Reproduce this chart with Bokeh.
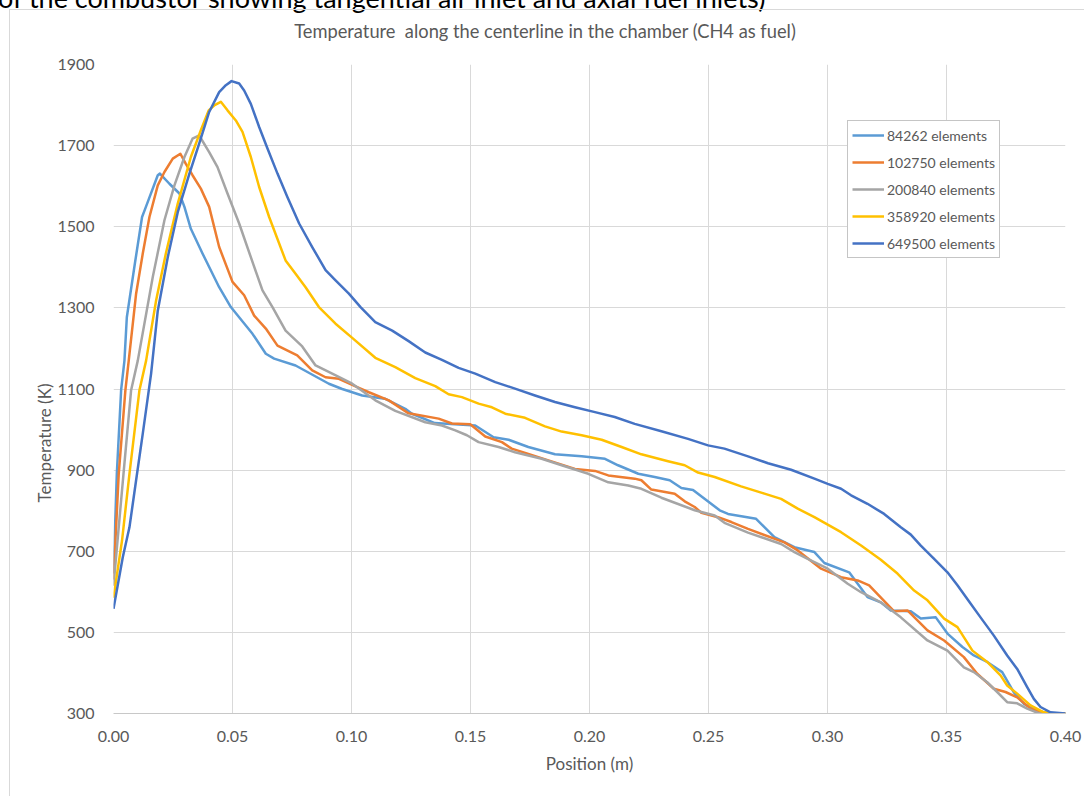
from bokeh.plotting import figure
from bokeh.models import (Range1d, FixedTicker, NumeralTickFormatter,
                          Legend, LegendItem, Div)
from bokeh.layouts import column, row
from bokeh.embed import file_html
from bokeh.resources import INLINE

# ---------------- data ----------------
series_names = ["84262 elements", "102750 elements", "200840 elements",
                "358920 elements", "649500 elements"]
series_colors = ["#5B9BD5", "#ED7D31", "#A5A5A5", "#FFC000", "#4472C4"]

pos_84262 = [0, 0.0014, 0.0032, 0.0046, 0.0056, 0.009, 0.012, 0.0133, 0.0186, 0.0195,
             0.0235, 0.0277, 0.0298, 0.0325, 0.0374, 0.0444, 0.0493, 0.0584, 0.064,
             0.0675, 0.0765, 0.0905, 0.0961, 0.1045, 0.114, 0.1226, 0.1254, 0.135,
             0.152, 0.1597, 0.166, 0.1743, 0.1855, 0.1967, 0.2065, 0.212, 0.2205,
             0.2274, 0.2337, 0.2386, 0.2435, 0.2547, 0.2582, 0.27, 0.2777, 0.2861,
             0.2945, 0.2987, 0.3091, 0.3168, 0.3224, 0.3266, 0.335, 0.3392, 0.3455,
             0.3504, 0.3567, 0.3615, 0.3671, 0.3734, 0.3783, 0.3825, 0.3881, 0.393, 0.40]
temp_84262 = [645, 891, 1097, 1170, 1277, 1410, 1524, 1544, 1627, 1631,
              1606, 1582, 1549, 1495, 1434, 1351, 1302, 1236, 1187,
              1175, 1158, 1113, 1100, 1084, 1076, 1051, 1039, 1016,
              1010, 981, 975, 957, 939, 934, 928, 912, 891,
              883, 875, 856, 851, 801, 792, 780, 735, 710,
              698, 671, 648, 587, 574, 554, 552, 534, 537,
              497, 464, 443, 427, 402, 352, 324, 307, 300, 300]

pos_102750 = [0, 0.0022, 0.005, 0.0064, 0.0095, 0.0123, 0.0151, 0.0186, 0.0214, 0.0249,
              0.0281, 0.0304, 0.0332, 0.0367, 0.0402, 0.0444, 0.05, 0.0549, 0.0591,
              0.064, 0.0689, 0.0772, 0.0835, 0.0891, 0.0947, 0.1031, 0.1073, 0.1157,
              0.124, 0.1366, 0.1422, 0.1499, 0.1562, 0.1632, 0.1673, 0.1743, 0.1827,
              0.1939, 0.2023, 0.2079, 0.219, 0.2218, 0.226, 0.2358, 0.24, 0.2442,
              0.247, 0.254, 0.2596, 0.2666, 0.2819, 0.2875, 0.2973, 0.3057, 0.3127,
              0.3175, 0.328, 0.3336, 0.342, 0.349, 0.3573, 0.3629, 0.3699, 0.3748,
              0.3797, 0.3853, 0.392, 0.40]
temp_102750 = [630, 891, 1097, 1170, 1335, 1434, 1524, 1602, 1635, 1668,
               1680, 1655, 1627, 1594, 1549, 1450, 1364, 1331, 1281,
               1249, 1207, 1183, 1146, 1129, 1125, 1103, 1092, 1072,
               1040, 1027, 1015, 1013, 983, 969, 953, 940, 924,
               903, 898, 887, 879, 875, 852, 842, 823, 809,
               795, 784, 772, 755, 722, 702, 657, 636, 628,
               616, 552, 554, 505, 480, 439, 398, 361, 353,
               340, 312, 300, 300]

pos_200840 = [0, 0.0042, 0.0074, 0.0102, 0.0165, 0.0214, 0.0256, 0.0298, 0.0332, 0.036,
              0.0402, 0.0437, 0.0479, 0.0528, 0.0577, 0.0626, 0.0668, 0.0723, 0.0793,
              0.0849, 0.0919, 0.1003, 0.11, 0.1184, 0.131, 0.138, 0.1436, 0.1485,
              0.1534, 0.1618, 0.1687, 0.1799, 0.1883, 0.1995, 0.2079, 0.2163, 0.2218,
              0.2302, 0.2442, 0.2526, 0.2567, 0.2666, 0.2805, 0.2861, 0.2917, 0.3001,
              0.3085, 0.3141, 0.3224, 0.3308, 0.342, 0.3504, 0.3573, 0.3615, 0.3671,
              0.3713, 0.3755, 0.3797, 0.3839, 0.389, 0.40]
temp_200840 = [615, 891, 1097, 1170, 1376, 1516, 1602, 1672, 1717, 1725,
               1684, 1647, 1582, 1508, 1425, 1343, 1302, 1244, 1205,
               1158, 1138, 1113, 1072, 1046, 1018, 1010, 998, 986,
               969, 957, 944, 928, 912, 891, 870, 862, 854,
               832, 801, 788, 770, 746, 718, 698, 681, 657,
               620, 599, 574, 537, 480, 455, 414, 402, 377,
               353, 328, 325, 312, 300, 300]

pos_358920 = [0, 0.0036, 0.0067, 0.0109, 0.0137, 0.0179, 0.022, 0.027, 0.0325, 0.0367,
              0.04, 0.0423, 0.0451, 0.0479, 0.0514, 0.0542, 0.0577, 0.0612, 0.0654,
              0.0723, 0.0765, 0.0807, 0.0863, 0.0933, 0.1003, 0.11, 0.1184, 0.1268,
              0.1352, 0.1408, 0.1464, 0.1534, 0.159, 0.1646, 0.1729, 0.1813, 0.1883,
              0.1967, 0.2051, 0.2135, 0.2218, 0.233, 0.24, 0.2456, 0.2526, 0.2637,
              0.2735, 0.2805, 0.2875, 0.2945, 0.3057, 0.3141, 0.3224, 0.3294, 0.3364,
              0.342, 0.349, 0.3546, 0.3609, 0.3671, 0.3727, 0.3755, 0.3797, 0.3853,
              0.3909, 0.395, 0.40]
temp_358920 = [585, 727, 891, 1097, 1170, 1318, 1434, 1557, 1672, 1738,
               1787, 1799, 1808, 1787, 1762, 1734, 1672, 1598, 1524,
               1417, 1384, 1351, 1302, 1261, 1226, 1177, 1154, 1127,
               1107, 1087, 1080, 1064, 1055, 1039, 1029, 1008, 995,
               986, 975, 957, 939, 922, 912, 894, 883, 860,
               842, 829, 805, 784, 747, 714, 679, 645, 603,
               579, 534, 513, 455, 427, 394, 369, 349, 320,
               303, 300, 300]

pos_649500 = [0, 0.0039, 0.0067, 0.0095, 0.0123, 0.0158, 0.0186, 0.0228, 0.027, 0.0319,
              0.036, 0.0402, 0.0444, 0.0472, 0.0496, 0.0528, 0.0549, 0.0577, 0.0612,
              0.0647, 0.0689, 0.0731, 0.078, 0.0835, 0.0891, 0.0933, 0.0989, 0.1038,
              0.11, 0.1171, 0.124, 0.131, 0.138, 0.145, 0.152, 0.1604, 0.1687,
              0.1771, 0.1855, 0.1939, 0.2023, 0.2106, 0.219, 0.2302, 0.2414, 0.2498,
              0.2567, 0.2666, 0.275, 0.2847, 0.2945, 0.3001, 0.3057, 0.3099, 0.3168,
              0.3238, 0.3308, 0.335, 0.3392, 0.3448, 0.3504, 0.3546, 0.3601, 0.3643,
              0.3699, 0.3755, 0.3797, 0.3839, 0.3867, 0.3895, 0.3937, 0.40]
temp_649500 = [558, 685, 759, 875, 990, 1138, 1293, 1425, 1536, 1631,
               1705, 1783, 1832, 1849, 1859, 1853, 1836, 1803, 1746,
               1693, 1631, 1573, 1508, 1450, 1393, 1368, 1335, 1302,
               1265, 1244, 1218, 1190, 1172, 1152, 1138, 1117, 1101,
               1084, 1068, 1055, 1043, 1031, 1014, 996, 977, 961,
               953, 934, 917, 901, 879, 866, 854, 838, 817,
               792, 759, 741, 714, 681, 648, 616, 571, 537,
               492, 443, 410, 365, 336, 316, 303, 300]

x_ticks = [0, 0.05, 0.10, 0.15, 0.20, 0.25, 0.30, 0.35, 0.40]
y_ticks = [300, 500, 700, 900, 1100, 1300, 1500, 1700, 1900]

chart_title = "Temperature  along the centerline in the chamber (CH4 as fuel)"
caption_text = "of the combustor showing tangential air inlet and axial fuel inlets)"
x_title = "Position (m)"
y_title = "Temperature (K)"

# ---------------- layout constants ----------------
FONT = "Lato"
GREY_TXT = "#595959"
GRID = "#D9D9D9"
W, H = 1084, 796
TOP_H = 45          # html strip above the figure
LEFT_W = 54         # html strip left of the figure (border + y title)
FL, FR, FT, FB = 111, 1065, 64, 713   # frame edges in page pixels
YT_X, YT_Y = 45, 443                  # centre of the y-axis title (page px)
NOMARGIN = (0, 0, 0, 0)

# ---------------- top strip: cut-off document caption + chart title ----------------
top_html = (
    '<div style="position:relative;width:%dpx;height:%dpx;">' % (W, TOP_H)
    + '<div style="position:absolute;left:-2px;top:-18px;font-family:Lato;'
      'font-size:27px;line-height:32px;color:#000000;white-space:nowrap;">'
    + caption_text + '</div>'
    + '<div style="position:absolute;left:6px;top:21px;width:1078px;text-align:center;'
      'font-family:Lato;font-size:18.3px;line-height:20px;color:%s;white-space:pre;">' % GREY_TXT
    + chart_title + '</div>'
    + '<div style="position:absolute;left:9px;top:9px;width:%dpx;height:1px;'
      'background:%s;"></div>' % (W - 9, GRID)
    + '<div style="position:absolute;left:9px;top:9px;width:1px;height:%dpx;'
      'background:%s;"></div>' % (TOP_H - 9, GRID)
    + '</div>'
)
top_div = Div(text=top_html, width=W, height=TOP_H, margin=NOMARGIN)

# ---------------- left strip: chart-area border + y-axis title ----------------
LH = H - TOP_H
left_html = (
    '<div style="position:relative;width:%dpx;height:%dpx;">' % (LEFT_W, LH)
    + '<div style="position:absolute;left:9px;top:0px;width:1px;height:%dpx;'
      'background:%s;"></div>' % (LH, GRID)
    + '<div style="position:absolute;left:%dpx;top:%dpx;'
      'transform:translate(-50%%,-50%%) rotate(-90deg);white-space:nowrap;'
      'font-family:Lato;font-size:17px;line-height:20px;color:%s;">'
      % (YT_X, YT_Y - TOP_H, GREY_TXT)
    + y_title + '</div>'
    + '</div>'
)
left_div = Div(text=left_html, width=LEFT_W, height=LH, margin=NOMARGIN)

# ---------------- figure ----------------
PW, PH = W - LEFT_W, H - TOP_H
p = figure(width=PW, height=PH, output_backend="svg", toolbar_location=None,
           x_range=Range1d(0, 0.40), y_range=Range1d(300, 1900),
           min_border_left=FL - LEFT_W, min_border_right=W - FR,
           min_border_top=FT - TOP_H, min_border_bottom=PH - (FB - TOP_H),
           margin=NOMARGIN)
p.outline_line_color = None
p.background_fill_color = "white"
p.border_fill_color = "white"

p.xaxis.ticker = FixedTicker(ticks=x_ticks)
p.yaxis.ticker = FixedTicker(ticks=y_ticks)
p.xaxis.formatter = NumeralTickFormatter(format="0.00")
for ax in (p.xaxis[0], p.yaxis[0]):
    ax.major_tick_line_color = None
    ax.minor_tick_line_color = None
    ax.major_tick_out = 0
    ax.major_tick_in = 0
    ax.major_label_text_font = FONT
    ax.major_label_text_font_size = "16px"
    ax.major_label_text_color = GREY_TXT
    ax.axis_label_text_font = FONT
    ax.axis_label_text_font_size = "17px"
    ax.axis_label_text_font_style = "normal"
    ax.axis_label_text_color = GREY_TXT
p.xaxis.axis_line_color = "#C8C8C8"
p.yaxis.axis_line_color = None
p.xaxis.major_label_standoff = 17
p.yaxis.major_label_standoff = 19
p.xaxis.axis_label = x_title
p.xaxis.axis_label_standoff = 8

p.xgrid.grid_line_color = GRID
p.ygrid.grid_line_color = GRID
p.xgrid.grid_line_width = 1
p.ygrid.grid_line_width = 1

all_pos = [pos_84262, pos_102750, pos_200840, pos_358920, pos_649500]
all_temp = [temp_84262, temp_102750, temp_200840, temp_358920, temp_649500]
items = []
for name, color, xs, ys in zip(series_names, series_colors, all_pos, all_temp):
    r = p.line(xs, ys, line_color=color, line_width=2.5, line_join="round")
    items.append(LegendItem(label=name, renderers=[r]))

legend = Legend(items=items, location=(845 - FL, FB - 258),
                label_text_font=FONT, label_text_font_size="14px",
                label_text_color=GREY_TXT, border_line_color="#8C8C8C",
                border_line_width=1, background_fill_color="white",
                background_fill_alpha=1.0, padding=4, spacing=7, margin=0,
                glyph_width=32, glyph_height=20, label_height=20,
                label_standoff=3)
p.add_layout(legend)

layout = column(top_div, row(left_div, p, spacing=0, margin=NOMARGIN),
                spacing=0, margin=NOMARGIN)

open("out.html", "w").write(file_html(layout, INLINE))
